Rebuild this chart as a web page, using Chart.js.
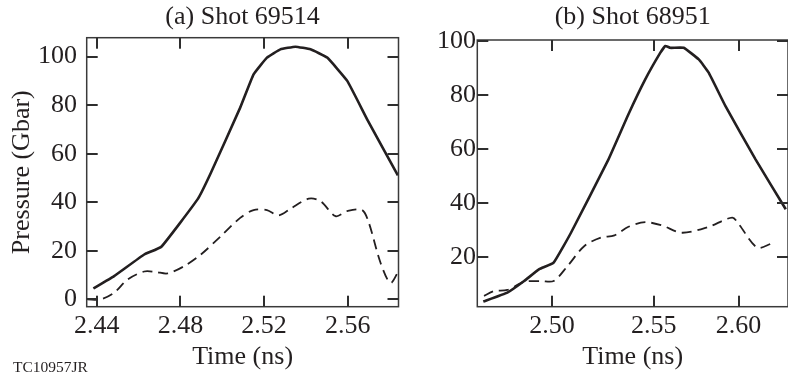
<!DOCTYPE html>
<html lang="en">
<head>
<meta charset="UTF-8">
<title>Pressure vs Time - Shots 69514 and 68951</title>
<script src="https://cdn.jsdelivr.net/npm/chart.js"></script>
<style>
  body { margin: 0; background: #fff; width: 788px; height: 381px; position: relative; overflow: hidden; }
  canvas { position: absolute; top: 0; }
  #chart-a { left: 0; }
  #chart-b { left: 392px; }
  .tag { position: absolute; left: 13px; top: 358px; font: 15.5px 'Liberation Serif', serif; color: #231f20; }
</style>
</head>
<body>
<canvas id="chart-a" width="400" height="381"></canvas>
<canvas id="chart-b" width="396" height="381"></canvas>
<div class="tag">TC10957JR</div>

<script>
// (a) Shot 69514
const timeSolidA = [2.4384, 2.4483, 2.4627, 2.4709, 2.4882, 2.4946, 2.5086, 2.515, 2.5214, 2.5278, 2.535, 2.5422, 2.5502, 2.5598, 2.5693, 2.584];
const pressSolidA = [4.5, 9.6, 18.5, 21.7, 41.2, 52.2, 79, 92.7, 99.6, 103, 104.1, 103, 99.6, 90, 74.2, 51.1];
const timeDashA = [2.4355, 2.4419, 2.4483, 2.4547, 2.4627, 2.4683, 2.4738, 2.4818, 2.4898, 2.4994, 2.5086, 2.515, 2.5214, 2.527, 2.5326, 2.5414, 2.547, 2.5542, 2.5598, 2.5669, 2.5701, 2.5757, 2.5805, 2.5848];
const pressDashA = [0, 0, 2.7, 8.2, 11.5, 11.3, 10.7, 13.7, 18.5, 26.1, 33.6, 36.8, 36.8, 34.6, 37.3, 41.5, 40.5, 34.3, 36.4, 36.8, 31.6, 15.1, 6.8, 12.5];
const xTicksA = [2.44, 2.48, 2.52, 2.56];
const yTicksA = [0, 20, 40, 60, 80, 100];

// (b) Shot 68951
const timeSolidB = [2.4632, 2.4761, 2.4851, 2.4932, 2.5009, 2.5102, 2.5299, 2.541, 2.55, 2.5581, 2.5608, 2.5634, 2.5706, 2.5787, 2.584, 2.593, 2.6091, 2.6253];
const pressSolidB = [3.6, 6.9, 11.2, 15.6, 18, 29.1, 55.7, 73, 85.9, 95.8, 98.3, 97.6, 97.6, 93.3, 88.4, 76, 56.3, 37.8];
const timeDashB = [2.4636, 2.469, 2.4761, 2.4851, 2.4941, 2.5009, 2.5084, 2.5174, 2.5263, 2.5335, 2.541, 2.55, 2.5589, 2.5697, 2.584, 2.5966, 2.6002, 2.61, 2.6181];
const pressDashB = [5.7, 7.5, 7.9, 10.9, 11.2, 11.2, 16.8, 24.2, 27.3, 28.1, 31.3, 33, 31.8, 29.1, 31.3, 34.7, 32.2, 23.6, 25.2];
// the printed 2.55 label sits off the even spacing of 2.50 / 2.60
const xTickValsB = [2.50, 2.5546, 2.60];
const xTickLabelsB = ['2.50', '2.55', '2.60'];
const yTicksB = [20, 40, 60, 80, 100];

const ink = '#231f20';
const serif = "'Liberation Serif', 'DejaVu Serif', serif";

const pts = (xs, ys) => xs.map((x, i) => ({ x: x, y: ys[i] }));

// box around the plot with inward ticks on all four sides
const framePlugin = {
    id: 'frame',
    afterDraw(chart) {
        const { ctx, chartArea: a } = chart;
        const x = chart.scales.x, y = chart.scales.y;
        const len = 11, w = 2;
        ctx.save();
        ctx.setLineDash([]);
        ctx.strokeStyle = '#3a3a3a';
        ctx.lineWidth = 1.5;
        ctx.strokeRect(a.left, a.top, a.right - a.left, a.bottom - a.top);
        ctx.fillStyle = '#2e2e2e';
        x.ticks.forEach(t => {
            const px = Math.round(x.getPixelForValue(t.value));
            ctx.fillRect(px - w / 2, a.bottom - len, w, len);
            ctx.fillRect(px - w / 2, a.top, w, len);
        });
        y.ticks.forEach(t => {
            const py = Math.round(y.getPixelForValue(t.value));
            ctx.fillRect(a.left, py - w / 2, len, w);
            ctx.fillRect(a.right - len, py - w / 2, len, w);
        });
        ctx.restore();
    }
};

function makePanel(id, p) {
    return new Chart(document.getElementById(id), {
        type: 'line',
        data: {
            datasets: [{
                data: pts(p.tSolid, p.pSolid),
                borderColor: ink,
                borderWidth: 2.6,
                pointRadius: 0,
                tension: 0.1
            }, {
                data: pts(p.tDash, p.pDash),
                borderColor: ink,
                borderWidth: 1.8,
                borderDash: [10, 6],
                pointRadius: 0,
                tension: 0.3
            }]
        },
        options: {
            responsive: false,
            animation: false,
            devicePixelRatio: 1,
            layout: { padding: { left: 0, right: p.padRight, top: 0, bottom: 0 } },
            plugins: {
                legend: { display: false },
                tooltip: { enabled: false },
                title: {
                    display: true,
                    fullSize: false,
                    text: p.title,
                    color: ink,
                    font: { family: serif, size: 26, weight: 'normal', lineHeight: 1.2 },
                    padding: { top: 1.1, bottom: p.titleGap }
                }
            },
            scales: {
                x: {
                    type: 'linear',
                    min: p.xMin,
                    max: p.xMax,
                    grid: { display: false, drawTicks: false },
                    border: { display: false },
                    afterBuildTicks: s => { s.ticks = p.xTicks.map(v => ({ value: v })); },
                    afterFit: s => { s.height = 74.3; },
                    ticks: {
                        color: ink,
                        padding: 6.3,
                        maxRotation: 0,
                        font: { family: serif, size: 26, lineHeight: 1 },
                        callback: (v, i) => p.xLabels[i]
                    },
                    title: {
                        display: true,
                        text: 'Time (ns)',
                        color: ink,
                        font: { family: serif, size: 26, lineHeight: 1.2 },
                        padding: { top: 0, bottom: 8.4 }
                    }
                },
                y: {
                    min: p.yMin,
                    max: p.yMax,
                    grid: { display: false, drawTicks: false },
                    border: { display: false },
                    afterBuildTicks: s => { s.ticks = p.yTicks.map(v => ({ value: v })); },
                    afterFit: s => { s.width = p.yWidth; },
                    ticks: {
                        color: ink,
                        padding: p.yPad,
                        font: { family: serif, size: 26, lineHeight: 1 }
                    },
                    title: {
                        display: p.yTitle !== '',
                        text: p.yTitle,
                        color: ink,
                        font: { family: serif, size: 26, lineHeight: 1.2 },
                        padding: { top: 6.4, bottom: 0 }
                    }
                }
            }
        },
        plugins: [framePlugin]
    });
}

makePanel('chart-a', {
    title: '(a) Shot 69514',
    tSolid: timeSolidA, pSolid: pressSolidA,
    tDash: timeDashA, pDash: pressDashA,
    xMin: 2.4352, xMax: 2.5843, yMin: -3, yMax: 107.8,
    xTicks: xTicksA, xLabels: xTicksA.map(v => v.toFixed(2)),
    yTicks: yTicksA,
    yWidth: 86.7, yPad: 9.7, padRight: 1.5, titleGap: 5.4,
    yTitle: 'Pressure (Gbar)'
});

makePanel('chart-b', {
    title: '(b) Shot 68951',
    tSolid: timeSolidB, pSolid: pressSolidB,
    tDash: timeDashB, pDash: pressDashB,
    xMin: 2.46, xMax: 2.6265, yMin: 1.7, yMax: 100.5,
    xTicks: xTickValsB, xLabels: xTickLabelsB,
    yTicks: yTicksB,
    yWidth: 85.3, yPad: 1.3, padRight: 0, titleGap: 7.7,
    yTitle: ''
});
</script>
</body>
</html>
